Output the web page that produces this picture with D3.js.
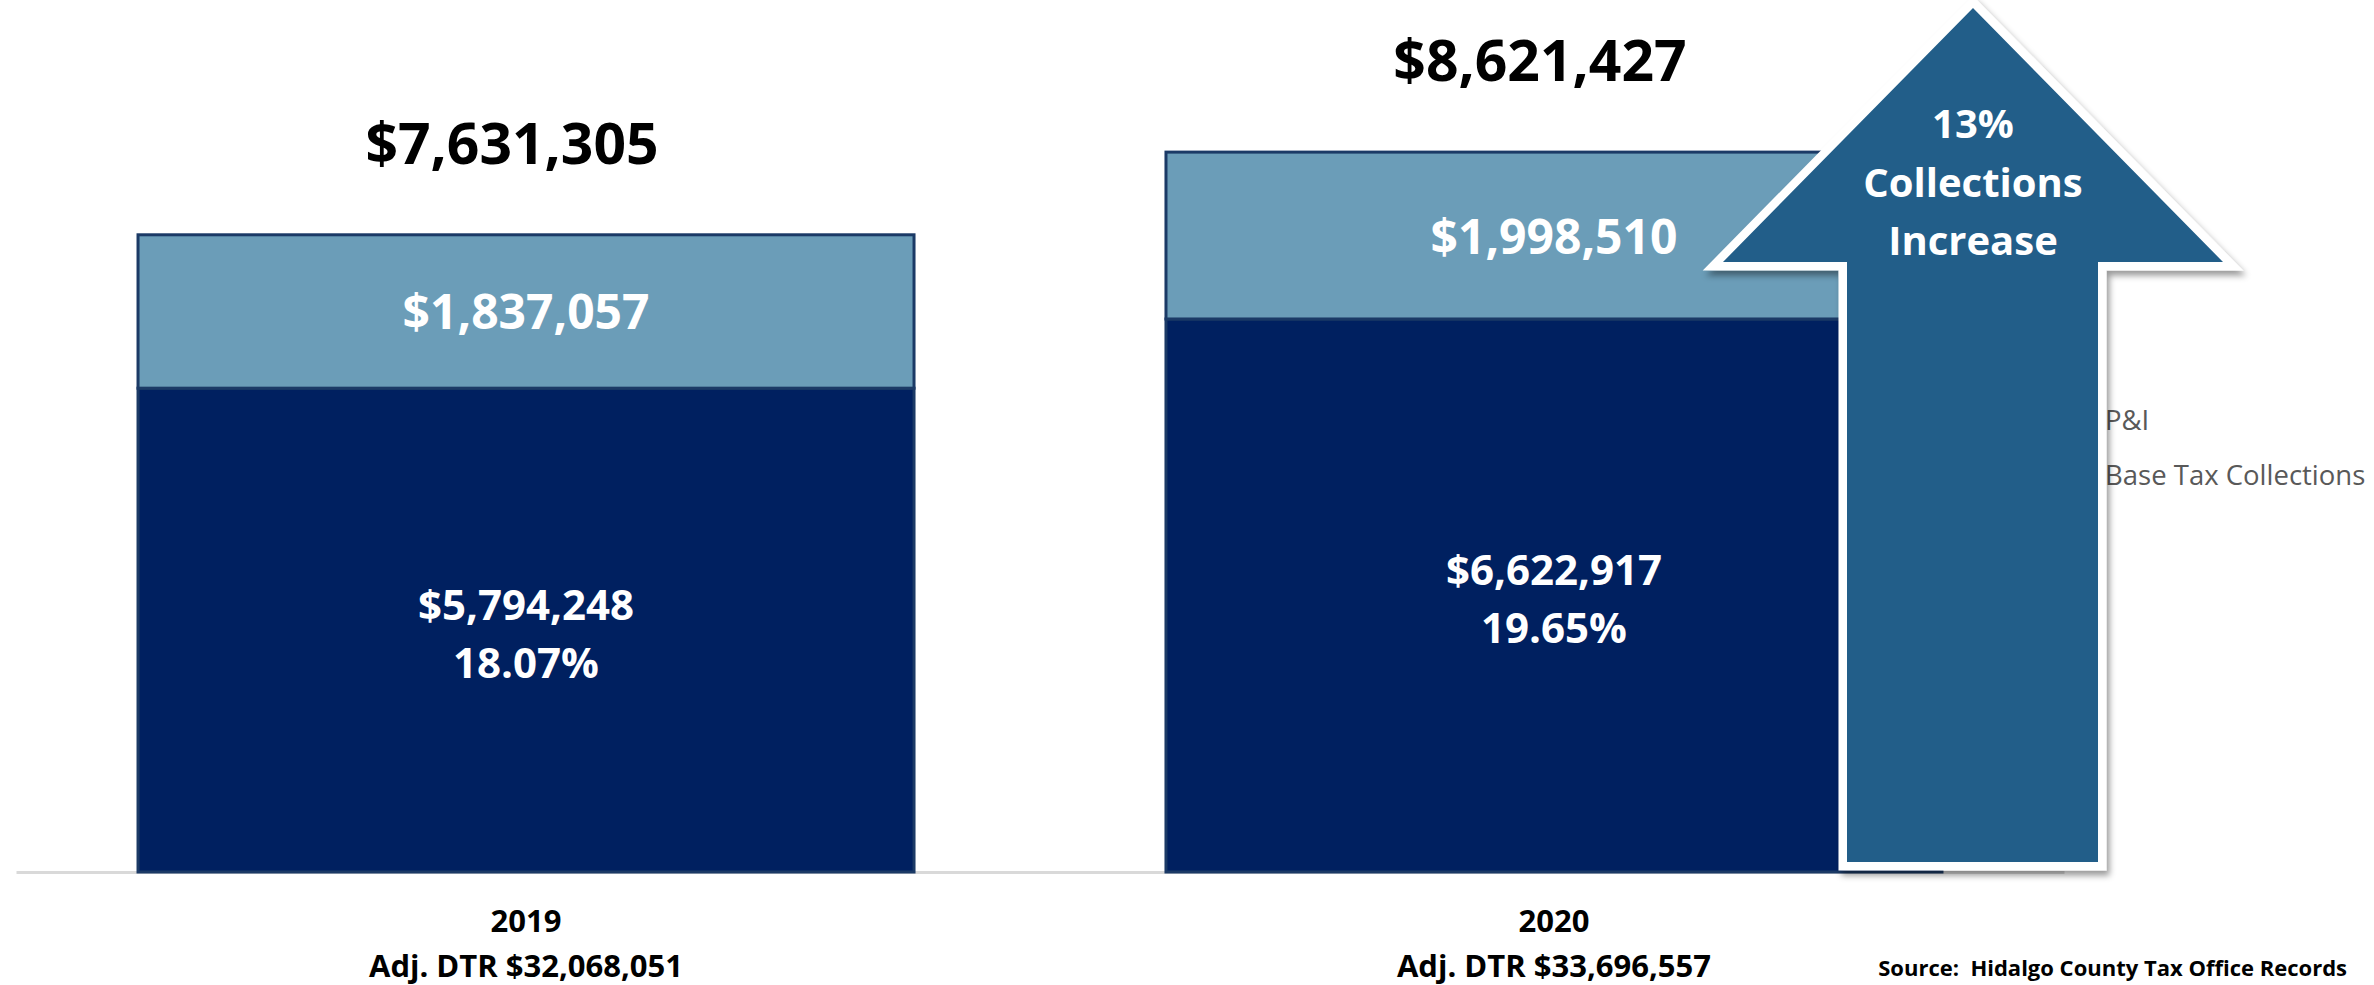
<!DOCTYPE html>
<html lang="en">
<head>
<meta charset="UTF-8"/>
<title>Tax Collections 2019 vs 2020</title>
<script src="https://d3js.org/d3.v7.min.js"></script>
<style>
	body {
		margin: 0;
		background-color: #FFFFFF;
		font-family: "Open Sans", "Liberation Sans", sans-serif;
	}
	#chart svg {
		display: block;
	}
</style>
</head>
<body>
<div id="chart"></div>
<script>
	// data
	var years = ["2019", "2020"];
	var baseTax = [5794248, 6622917];      // Base Tax Collections
	var penaltyInterest = [1837057, 1998510]; // P&I
	var adjDtr = [32068051, 33696557];
	var seriesNames = ["P&I", "Base Tax Collections"];
	var increaseText = ["13%", "Collections", "Increase"];
	var sourceText = "Source:  Hidalgo County Tax Office Records";

	var w = 2374;
	var h = 985;
	var baseY = 872;   // bottom of the bars

	var navy = "#002060";
	var lightBlue = "#6B9DB8";
	var arrowBlue = "#225E89";

	var rows = years.map(function (y, i) {
		return { year: y, base: baseTax[i], pi: penaltyInterest[i], dtr: adjDtr[i] };
	});

	var stack = d3.stack().keys(["base", "pi"]);
	var layers = stack(rows);

	var xScale = d3.scaleBand()
		.domain(years)
		.range([16, 2064])
		.paddingInner(0.2451)
		.paddingOuter(0.1187);

	var yScale = d3.scaleLinear()
		.domain([0, 10000000])
		.range([baseY, 37]);

	var money = d3.format("$,");
	var pct = d3.format(".2%");

	var svg = d3.select("#chart")
		.append("svg")
		.attr("width", w)
		.attr("height", h);

	svg.append("rect")
		.attr("width", w)
		.attr("height", h)
		.attr("fill", "#FFFFFF");

	// shadow for the arrow
	var defs = svg.append("defs");
	defs.append("filter")
		.attr("id", "shadow")
		.attr("x", "-10%").attr("y", "-10%")
		.attr("width", "130%").attr("height", "130%")
		.append("feDropShadow")
		.attr("dx", 3)
		.attr("dy", 5)
		.attr("stdDeviation", 3)
		.attr("flood-color", "#000000")
		.attr("flood-opacity", 0.4);

	// x axis line (no ticks, no labels)
	var xAxis = d3.axisBottom(xScale).tickSize(0).tickFormat("");
	var axisG = svg.append("g")
		.attr("transform", "translate(0," + baseY + ")")
		.call(xAxis);
	axisG.select(".domain")
		.attr("stroke", "#D9D9D9")
		.attr("stroke-width", 3);

	// stacked bars
	var colors = { base: navy, pi: lightBlue };
	svg.selectAll("g.layer")
		.data(layers)
		.enter()
		.append("g")
		.attr("class", "layer")
		.attr("fill", function (d) { return colors[d.key]; })
		.selectAll("rect")
		.data(function (d) { return d; })
		.enter()
		.append("rect")
		.attr("x", function (d) { return xScale(d.data.year); })
		.attr("y", function (d) { return yScale(d[1]); })
		.attr("width", xScale.bandwidth())
		.attr("height", function (d) { return yScale(d[0]) - yScale(d[1]); })
		.attr("stroke", "#1B3A66")
		.attr("stroke-width", 3);

	var cx = function (d) { return xScale(d.year) + xScale.bandwidth() / 2; };

	// totals above bars (sit a little left of the bar centre)
	svg.selectAll("text.total")
		.data(rows)
		.enter()
		.append("text")
		.attr("class", "total")
		.attr("x", function (d) { return cx(d) - 14; })
		.attr("y", function (d) { return yScale(d.base + d.pi) - 71; })
		.attr("text-anchor", "middle")
		.attr("font-size", "57px")
		.attr("font-weight", "bold")
		.attr("fill", "#000000")
		.text(function (d) { return money(d.base + d.pi); });

	// P&I labels
	svg.selectAll("text.pi")
		.data(rows)
		.enter()
		.append("text")
		.attr("class", "pi")
		.attr("x", cx)
		.attr("y", function (d) { return (yScale(d.base) + yScale(d.base + d.pi)) / 2 + 18; })
		.attr("text-anchor", "middle")
		.attr("font-size", "48px")
		.attr("font-weight", "bold")
		.attr("fill", "#FFFFFF")
		.text(function (d) { return money(d.pi); });

	// base tax labels, two lines
	var baseLabels = svg.selectAll("text.base")
		.data(rows)
		.enter()
		.append("text")
		.attr("class", "base")
		.attr("text-anchor", "middle")
		.attr("font-size", "42px")
		.attr("font-weight", "bold")
		.attr("fill", "#FFFFFF");
	baseLabels.append("tspan")
		.attr("x", cx)
		.attr("y", function (d) { return (yScale(0) + yScale(d.base)) / 2 - 10; })
		.text(function (d) { return money(d.base); });
	baseLabels.append("tspan")
		.attr("x", cx)
		.attr("y", function (d) { return (yScale(0) + yScale(d.base)) / 2 + 48; })
		.text(function (d) { return pct(d.base / d.dtr); });

	// category labels under the bars
	var catLabels = svg.selectAll("text.cat")
		.data(rows)
		.enter()
		.append("text")
		.attr("class", "cat")
		.attr("text-anchor", "middle")
		.attr("font-size", "31px")
		.attr("font-weight", "bold")
		.attr("fill", "#000000");
	catLabels.append("tspan")
		.attr("x", cx)
		.attr("y", 932)
		.text(function (d) { return d.year; });
	catLabels.append("tspan")
		.attr("x", cx)
		.attr("y", 977)
		.text(function (d) { return "Adj. DTR " + money(d.dtr); });

	// legend (swatches sit behind the arrow)
	var legend = svg.selectAll("g.legend")
		.data(seriesNames)
		.enter()
		.append("g")
		.attr("class", "legend")
		.attr("transform", function (d, i) { return "translate(2105," + (430 + i * 55) + ")"; });
	legend.append("rect")
		.attr("x", -22)
		.attr("y", -17)
		.attr("width", 16)
		.attr("height", 16)
		.attr("fill", function (d, i) { return i === 0 ? lightBlue : navy; });
	legend.append("text")
		.attr("font-size", "27.5px")
		.attr("fill", "#595959")
		.text(function (d) { return d; });

	// increase arrow
	var tip = [1973, 8], headY = 262, headHalf = 250, shaftL = 1847, shaftR = 2098, bottom = 862;
	var arrowPts = [
		tip,
		[tip[0] + headHalf, headY],
		[shaftR, headY],
		[shaftR, bottom],
		[shaftL, bottom],
		[shaftL, headY],
		[tip[0] - headHalf, headY]
	];
	var arrowLine = d3.line().curve(d3.curveLinearClosed);

	svg.append("path")
		.attr("d", arrowLine(arrowPts))
		.attr("fill", "#FFFFFF")
		.attr("stroke", "#FFFFFF")
		.attr("stroke-width", 17)
		.attr("stroke-linejoin", "miter")
		.attr("filter", "url(#shadow)");
	svg.append("path")
		.attr("d", arrowLine(arrowPts))
		.attr("fill", arrowBlue);

	svg.selectAll("text.arrow")
		.data(increaseText)
		.enter()
		.append("text")
		.attr("class", "arrow")
		.attr("x", tip[0])
		.attr("y", function (d, i) { return [138, 197, 255][i]; })
		.attr("text-anchor", "middle")
		.attr("font-size", "40px")
		.attr("font-weight", "bold")
		.attr("fill", "#FFFFFF")
		.text(function (d) { return d; });

	// source note
	svg.append("text")
		.attr("x", 2347)
		.attr("y", 976)
		.attr("text-anchor", "end")
		.attr("font-size", "22px")
		.attr("font-weight", "bold")
		.attr("fill", "#000000")
		.style("white-space", "pre")
		.text(sourceText);
</script>
</body>
</html>
